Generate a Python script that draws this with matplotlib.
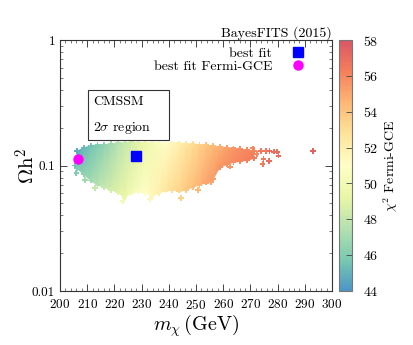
import numpy as np
import matplotlib
matplotlib.use("Agg")
import matplotlib.pyplot as plt
from matplotlib.colors import ListedColormap, Normalize
from matplotlib.patches import Rectangle
from matplotlib.ticker import FixedLocator, FixedFormatter, MultipleLocator, LogLocator, NullFormatter

plt.rcParams['font.family'] = 'serif'
plt.rcParams['font.serif'] = ['cmr10']
plt.rcParams['mathtext.fontset'] = 'cm'
plt.rcParams['axes.formatter.use_mathtext'] = True

# dense 2 sigma region, read column by column (m_chi in GeV)
m_col = [206.25, 208.75, 211.25, 213.75, 216.25, 218.75, 221.25, 223.75, 226.25,
         228.75, 231.25, 233.75, 236.25, 238.75, 241.25, 243.75, 246.25, 248.75,
         251.25, 253.75, 256.25, 258.75, 261.25, 263.75, 266.25, 268.75, 271.25]
omega_top = [0.130, 0.138, 0.144, 0.146, 0.147, 0.148, 0.150, 0.152, 0.153,
             0.152, 0.151, 0.151, 0.150, 0.150, 0.150, 0.150, 0.149, 0.148,
             0.147, 0.145, 0.143, 0.141, 0.139, 0.137, 0.135, 0.133, 0.130]
omega_bot = [0.095, 0.085, 0.076, 0.070, 0.067, 0.064, 0.061, 0.056, 0.060,
             0.062, 0.060, 0.057, 0.060, 0.063, 0.064, 0.063, 0.064, 0.067,
             0.070, 0.073, 0.078, 0.097, 0.102, 0.106, 0.108, 0.110, 0.114]
chi2_top = [44.8, 45.2, 45.6, 46.0, 46.5, 47.0, 47.5, 48.0, 48.5,
            49.0, 49.5, 50.0, 50.5, 51.0, 51.5, 52.0, 52.5, 53.0,
            53.5, 54.0, 54.4, 54.8, 55.2, 55.5, 55.8, 56.0, 56.2]
chi2_bot = [46.0, 46.5, 47.0, 47.5, 48.0, 48.5, 49.0, 49.5, 50.0,
            50.5, 51.0, 51.5, 52.0, 52.5, 53.0, 53.4, 53.8, 54.2,
            54.6, 55.0, 55.3, 55.5, 55.7, 55.9, 56.0, 56.2, 56.4]

# scattered points outside the dense core
out_m = [205.5, 206.0, 209.2, 212.9, 223.0, 233.0, 244.5, 250.8, 255.5, 262.5,
         270.8, 272.3, 273.8, 274.5, 274.8, 275.7, 276.8, 277.0, 278.7, 279.9,
         280.3, 293.1]
out_omega = [0.100, 0.087, 0.077, 0.066, 0.052, 0.054, 0.055, 0.064, 0.074, 0.098,
             0.137, 0.123, 0.131, 0.103, 0.113, 0.131, 0.109, 0.131, 0.129, 0.129,
             0.120, 0.131]
out_chi2 = [45.5, 46.0, 47.0, 48.0, 50.0, 51.5, 53.5, 54.5, 55.0, 55.5,
            56.0, 56.0, 56.5, 56.5, 56.5, 56.5, 57.0, 57.0, 57.0, 57.0,
            57.0, 57.5]

best_fit = (227.9, 0.118)
best_fit_gce = (206.7, 0.113)

cbar_ticks = [44, 46, 48, 50, 52, 54, 56, 58]
x_ticks = [200, 210, 220, 230, 240, 250, 260, 270, 280, 290, 300]

base = plt.get_cmap('Spectral_r')
cols = base(np.linspace(0.1, 0.9, 256))
cols[:, :3] = cols[:, :3] * 0.87 + 0.13
cmap = ListedColormap(cols)
norm = Normalize(44, 58)

fig = plt.figure(figsize=(4.14, 3.45), dpi=100)
ax = fig.add_axes([0.145, 0.1565, 0.657, 0.7275])
cax = fig.add_axes([0.819, 0.1565, 0.031, 0.7275])

X = np.array([m_col, m_col])
Y = np.array([omega_bot, omega_top])
C = np.array([chi2_bot, chi2_top])
ax.set_yscale('log')
ax.pcolormesh(X, Y, C, cmap=cmap, norm=norm, shading='gouraud', zorder=1)
for mm, oo, cc in [(m_col, omega_top, chi2_top), (m_col, omega_bot, chi2_bot),
                   (out_m, out_omega, out_chi2)]:
    ax.scatter(mm, oo, c=cc, cmap=cmap, norm=norm, marker='P', s=16,
               linewidths=0, zorder=2)

ax.plot(*best_fit, 's', color='blue', ms=6.5, label='best fit', zorder=4)
ax.plot(*best_fit_gce, 'o', color='magenta', ms=6.5, label='best fit Fermi-GCE', zorder=4)

ax.set_xlim(200, 300)
ax.set_ylim(0.01, 1)
ax.xaxis.set_major_locator(FixedLocator(x_ticks))
ax.xaxis.set_minor_locator(MultipleLocator(2))
ax.yaxis.set_major_locator(FixedLocator([0.01, 0.1, 1]))
ax.yaxis.set_major_formatter(FixedFormatter(['0.01', '0.1', '1']))
ax.yaxis.set_minor_locator(LogLocator(base=10, subs=np.arange(2, 10)))
ax.yaxis.set_minor_formatter(NullFormatter())
ax.tick_params(which='both', direction='in', top=True, right=True, labelsize=9.5, color='#444444')
ax.tick_params(which='major', length=5, width=0.7)
ax.tick_params(which='minor', length=2.5, width=0.5)
ax.tick_params(axis='x', pad=5)
for s in ax.spines.values():
    s.set_linewidth(0.8)
    s.set_color('#333333')

ax.set_xlabel(r'$m_\chi\,$(GeV)', fontsize=14.5, labelpad=0)
ax.set_ylabel(r'$\mathrm{\Omega h}^2$', fontsize=15, labelpad=-5)
ax.set_title('BayesFITS (2015)', loc='right', fontsize=10, pad=2)

ax.legend(loc='upper right', bbox_to_anchor=(0.915, 0.988), frameon=False,
          markerfirst=False, fontsize=10, handletextpad=1.35, borderaxespad=0.1,
          borderpad=0.2, labelspacing=0.0, handlelength=1)

ax.add_patch(Rectangle((0.102, 0.60), 0.298, 0.2, transform=ax.transAxes,
                       fc='white', ec='#333333', lw=0.8, zorder=3))
ax.text(0.121, 0.754, 'CMSSM', transform=ax.transAxes, fontsize=10,
        va='center', ha='left', zorder=4)
ax.text(0.121, 0.65, r'2$\sigma$ region', transform=ax.transAxes, fontsize=10,
        va='center', ha='left', zorder=4)

sm = plt.cm.ScalarMappable(norm=norm, cmap=cmap)
cb = fig.colorbar(sm, cax=cax, ticks=cbar_ticks)
cb.outline.set_edgecolor('#777777')
cb.outline.set_linewidth(0.8)
cax.tick_params(direction='in', length=4, width=0.6, labelsize=10, color='#444444', pad=8)
cb.set_label(r'$\chi^2$ Fermi-GCE', fontsize=10, labelpad=2)

fig.savefig('out.png', dpi=100)
